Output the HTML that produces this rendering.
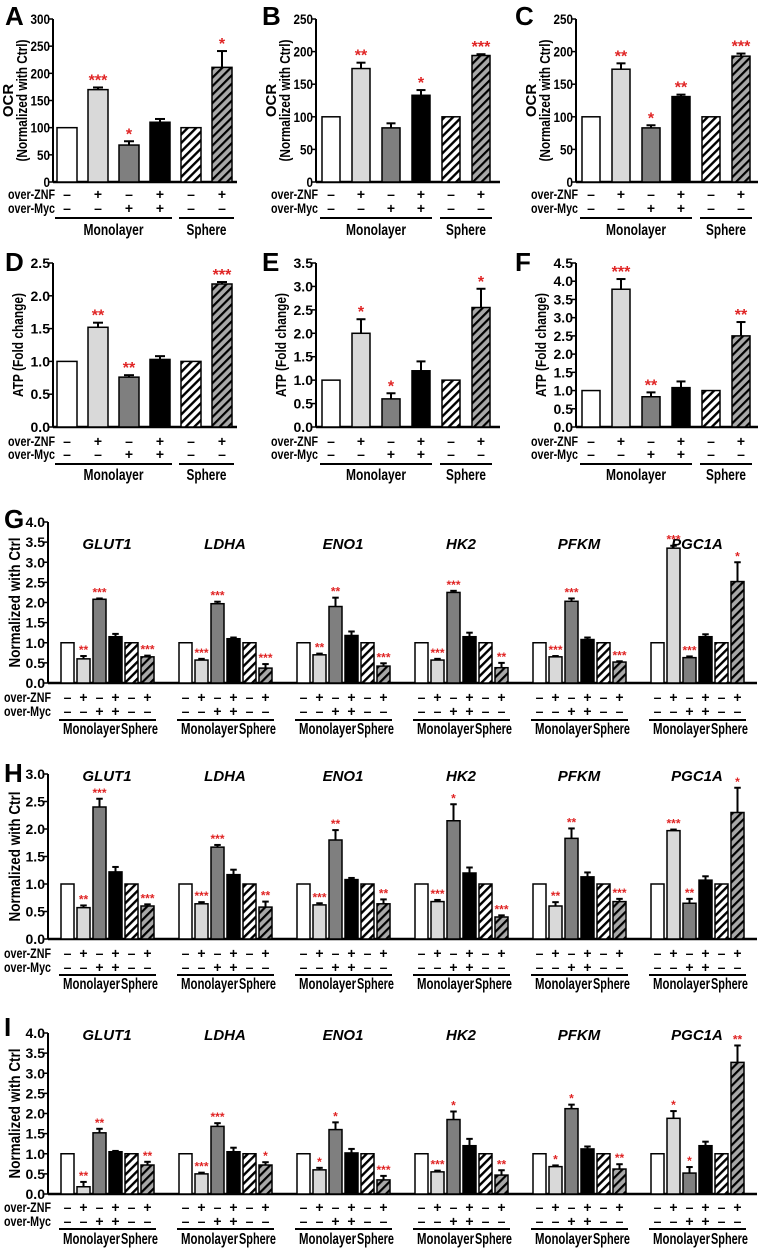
<!DOCTYPE html>
<html><head><meta charset="utf-8"><style>
body{margin:0;background:#fff}
svg{display:block;font-family:"Liberation Sans Narrow","Liberation Sans",Arial,sans-serif;font-weight:bold}
</style></head><body>
<svg id="fig" width="765" height="1248" viewBox="0 0 765 1248">
<defs>
<pattern id="hw" patternUnits="userSpaceOnUse" width="6" height="6" patternTransform="rotate(45)"><rect width="6" height="6" fill="#fff"/><rect width="2.4" height="6" fill="#000"/></pattern>
<pattern id="hg" patternUnits="userSpaceOnUse" width="6" height="6" patternTransform="rotate(45)"><rect width="6" height="6" fill="#a8a8a8"/><rect width="2.2" height="6" fill="#000"/></pattern>
</defs>
</svg>
<script>
// ---- data ----
const conditions = ["ctrl","over-ZNF","over-Myc","ZNF+Myc","sphere-ctrl","sphere-ZNF"];
const znfSigns = ["–","+","–","+","–","+"];
const mycSigns = ["–","–","+","+","–","–"];
const genes = ["GLUT1","LDHA","ENO1","HK2","PFKM","PGC1A"];

const valsA = [100,170,68,110,100,211];
const errsA = [0,4,7,6,0,30];
const starsA = ["","***","*","","","*"];
const valsB = [100,174,83,133,100,194];
const errsB = [0,9,7,8,0,2];
const starsB = ["","**","","*","","***"];
const valsC = [100,173,83,131,100,193];
const errsC = [0,9,4,3,0,4];
const starsC = ["","**","*","**","","***"];
const valsD = [1,1.52,0.76,1.03,1,2.18];
const errsD = [0,0.07,0.03,0.05,0,0.03];
const starsD = ["","**","**","","","***"];
const valsE = [1,2.0,0.6,1.2,1,2.55];
const errsE = [0,0.3,0.12,0.2,0,0.4];
const starsE = ["","*","*","","","*"];
const valsF = [1,3.78,0.83,1.08,1,2.5];
const errsF = [0,0.28,0.12,0.17,0,0.38];
const starsF = ["","***","**","","","**"];

const valsG = [[1,.6,2.08,1.15,1,.65],[1,.57,1.97,1.1,1,.37],[1,.7,1.9,1.18,1,.42],[1,.57,2.25,1.15,1,.38],[1,.65,2.03,1.08,1,.52],[1,3.35,.63,1.15,1,2.52]];
const errsG = [[0,.07,.02,.07,0,.03],[0,.03,.05,.03,0,.1],[0,.03,.22,.1,0,.07],[0,.03,.04,.1,0,.12],[0,.02,.07,.05,0,.02],[0,.06,.03,.06,0,.48]];
const starsG = [["","**","***","","","***"],["","***","***","","","***"],["","**","**","","","***"],["","***","***","","","**"],["","***","***","","","***"],["","***","***","","","*"]];
const valsH = [[1,.57,2.4,1.22,1,.6],[1,.64,1.67,1.17,1,.58],[1,.62,1.8,1.08,1,.64],[1,.68,2.15,1.2,1,.4],[1,.6,1.83,1.13,1,.68],[1,1.97,.65,1.07,1,2.3]];
const errsH = [[0,.04,.15,.09,0,.03],[0,.03,.04,.09,0,.1],[0,.03,.18,.03,0,.08],[0,.03,.3,.1,0,.03],[0,.07,.18,.08,0,.05],[0,.02,.08,.07,0,.45]];
const starsH = [["","**","***","","","***"],["","***","***","","","**"],["","***","**","","","**"],["","***","*","","","***"],["","**","**","","","***"],["","***","**","","","*"]];
const valsI = [[1,.18,1.52,1.05,1,.72],[1,.5,1.68,1.05,1,.72],[1,.6,1.6,1.02,1,.35],[1,.55,1.85,1.2,1,.47],[1,.68,2.12,1.12,1,.62],[1,1.88,.52,1.2,1,3.27]];
const errsI = [[0,.12,.1,.02,0,.08],[0,.03,.08,.1,0,.07],[0,.05,.18,.1,0,.1],[0,.03,.2,.17,0,.12],[0,.03,.1,.06,0,.12],[0,.18,.15,.1,0,.42]];
const starsI = [["","**","**","","","**"],["","***","***","","","*"],["","*","*","","","***"],["","***","*","","","**"],["","*","*","","","**"],["","*","*","","","**"]];

const ticksOCR300 = ["0","50","100","150","200","250","300"];
const ticksOCR250 = ["0","50","100","150","200","250"];
const ticksD = ["0.0","0.5","1.0","1.5","2.0","2.5"];
const ticksE = ["0.0","0.5","1.0","1.5","2.0","2.5","3.0","3.5"];
const ticksF = ["0.0","0.5","1.0","1.5","2.0","2.5","3.0","3.5","4.0","4.5"];
const ticks40 = ["0.0","0.5","1.0","1.5","2.0","2.5","3.0","3.5","4.0"];
const ticks30 = ["0.0","0.5","1.0","1.5","2.0","2.5","3.0"];

// ---- drawing ----
const svg = document.getElementById('fig');
const NS = 'http://www.w3.org/2000/svg';
const fills = ['#fff','#d9d9d9','#7f7f7f','#000','url(#hw)','url(#hg)'];
function mk(tag, attrs, parent){ const e=document.createElementNS(NS,tag); for(const k in attrs) e.setAttribute(k,attrs[k]); (parent||svg).appendChild(e); return e; }
function txt(s, x, y, size, anchor, parent, color, len){ const t=mk('text',{x:x,y:y,'font-size':size,'text-anchor':anchor||'start',fill:color||'#000'},parent); if(len){t.setAttribute('textLength',len);t.setAttribute('lengthAdjust','spacingAndGlyphs');} t.textContent=s; return t; }

function yAxis(g, ax, yTop, yZero, ticks, fs){
  const max=parseFloat(ticks[ticks.length-1]);
  const ys=v=>yZero-v/max*(yZero-yTop);
  const l=mk('line',{x1:ax,y1:yTop,x2:ax,y2:yZero,stroke:'#000','stroke-width':2},g);
  
  
  ticks.forEach(t=>{ const v=parseFloat(t); const y=ys(v);
    mk('line',{x1:ax-4,y1:y,x2:ax,y2:y,stroke:'#000','stroke-width':1.5},g);
    const tl=txt(t,ax-3,y+5,fs,'end',g,null,t.length*6.5);
    
    
  });
  return ys;
}
function bars(g, x0, pitch, w, ys, vals, errs, stars, sfs){
  vals.forEach((v,i)=>{
    const x=x0+i*pitch, top=ys(v);
    const r=mk('rect',{x:x,y:top,width:w,height:ys(0)-top,fill:fills[i],stroke:'#000','stroke-width':1.5},g);
    
    
    let st=top;
    if(errs[i]>0){ const ey=ys(v+errs[i]); st=ey;
      mk('line',{x1:x+w/2,y1:top,x2:x+w/2,y2:ey,stroke:'#000','stroke-width':2},g);
      mk('line',{x1:x+w*0.25,y1:ey,x2:x+w*0.75,y2:ey,stroke:'#000','stroke-width':2},g);
    }
    if(stars[i]){ const s=txt(stars[i],x+w/2,st-2,sfs,'middle',g,'#e02424');
      
       }
  });
}
function signs(g, x0, pitch, w, rowZ, rowM, lineY, labY, fs, lfs, monoLen, sphLen){
  for(let i=0;i<6;i++){ const cx=x0+i*pitch+w/2;
    txt(znfSigns[i],cx,rowZ,fs,'middle',g); txt(mycSigns[i],cx,rowM,fs,'middle',g); }
  const a=x0-2, b=x0+3*pitch+w+2, c=x0+4*pitch-2, d=x0+5*pitch+w+2;
  mk('line',{x1:a,y1:lineY,x2:b,y2:lineY,stroke:'#000','stroke-width':2},g);
  mk('line',{x1:c,y1:lineY,x2:d,y2:lineY,stroke:'#000','stroke-width':2},g);
  const m=txt('Monolayer',(a+b)/2,labY,lfs,'middle',g,null,monoLen);  
  const s=txt('Sphere',(c+d)/2,labY,lfs,'middle',g,null,sphLen);  
}
function rowLabels(g, xr, rowZ, rowM, fs){
  txt('over-ZNF',xr,rowZ,fs,'end',g,null,47); txt('over-Myc',xr,rowM,fs,'end',g,null,47);
}

const cols=[{ax:53,b0:57,p:31,w:20,end:237,lx:5},{ax:316,b0:322,p:30,w:18,end:500,lx:262},{ax:576,b0:582,p:30,w:18,end:758,lx:515}];
const rows=[{top:19,zero:182,z:199,m:213,line:218,lab:235,let:25},{top:263,zero:427,z:446,m:459,line:464,lab:480,let:271}];
const small=[
 {c:0,r:0,L:'A',v:valsA,e:errsA,s:starsA,t:ticksOCR300},
 {c:1,r:0,L:'B',v:valsB,e:errsB,s:starsB,t:ticksOCR250},
 {c:2,r:0,L:'C',v:valsC,e:errsC,s:starsC,t:ticksOCR250},
 {c:0,r:1,L:'D',v:valsD,e:errsD,s:starsD,t:ticksD},
 {c:1,r:1,L:'E',v:valsE,e:errsE,s:starsE,t:ticksE},
 {c:2,r:1,L:'F',v:valsF,e:errsF,s:starsF,t:ticksF}];
small.forEach(P=>{
  const C=cols[P.c], R=rows[P.r];
  const g=mk('g',{});
  
  
  txt(P.L,C.lx,R.let,26,'start',g);
  const ys=yAxis(g,C.ax,R.top,R.zero,P.t,14);
  mk('line',{x1:C.ax,y1:R.zero,x2:C.end,y2:R.zero,stroke:'#000','stroke-width':2.5},g);
  bars(g,C.b0,C.p,C.w,ys,P.v,P.e,P.s,16);
  rowLabels(g,C.ax+2,R.z,R.m,14);
  signs(g,C.b0,C.p,C.w,R.z,R.m,R.line,R.lab,14,16,60,40);
  const cy=(R.top+R.zero)/2, tx=C.ax-26;
  if(P.r===0){
    const t1=txt('OCR',tx-14,cy,15,'middle',g); t1.setAttribute('transform',`rotate(-90 ${tx-14} ${cy})`);
    const t2=txt('(Normalized with Ctrl)',tx,cy,15,'middle',g,null,122); t2.setAttribute('transform',`rotate(-90 ${tx} ${cy})`);
     
  } else {
    const t=txt('ATP (Fold change)',tx-4,cy,15,'middle',g,null,104); t.setAttribute('transform',`rotate(-90 ${tx-4} ${cy})`);
     
  }
});

const big=[
 {L:'G',top:522,zero:683,z:702,m:716,line:720,lab:734,gy:549,v:valsG,e:errsG,s:starsG,t:ticks40,ly:528},
 {L:'H',top:774,zero:939,z:958,m:972,line:975,lab:989,gy:781,v:valsH,e:errsH,s:starsH,t:ticks30,ly:782},
 {L:'I',top:1033,zero:1194,z:1212,m:1226,line:1229,lab:1244,gy:1040,v:valsI,e:errsI,s:starsI,t:ticks40,ly:1036}];
big.forEach(P=>{
  const g=mk('g',{});
  
  
  txt(P.L,4,P.ly,26,'start',g);
  const ax=48;
  const ys=yAxis(g,ax,P.top,P.zero,P.t,14);
  mk('line',{x1:ax,y1:P.zero,x2:757,y2:P.zero,stroke:'#000','stroke-width':2.5},g);
  rowLabels(g,ax+3,P.z,P.m,14);
  genes.forEach((gn,k)=>{
    const x0=61+k*118;
    const gl=txt(gn,x0+46,P.gy,15,'middle',g); gl.setAttribute('font-style','italic');
     
    bars(g,x0,16,13,ys,P.v[k],P.e[k],P.s[k],12);
    signs(g,x0,16,13,P.z,P.m,P.line,P.lab,14,16,57,37);
  });
  const cy=(P.top+P.zero)/2;
  const t=txt('Normalized with Ctrl',20,cy,16,'middle',g,null,130); t.setAttribute('transform',`rotate(-90 20 ${cy})`);
   
});
</script>
</body></html>
